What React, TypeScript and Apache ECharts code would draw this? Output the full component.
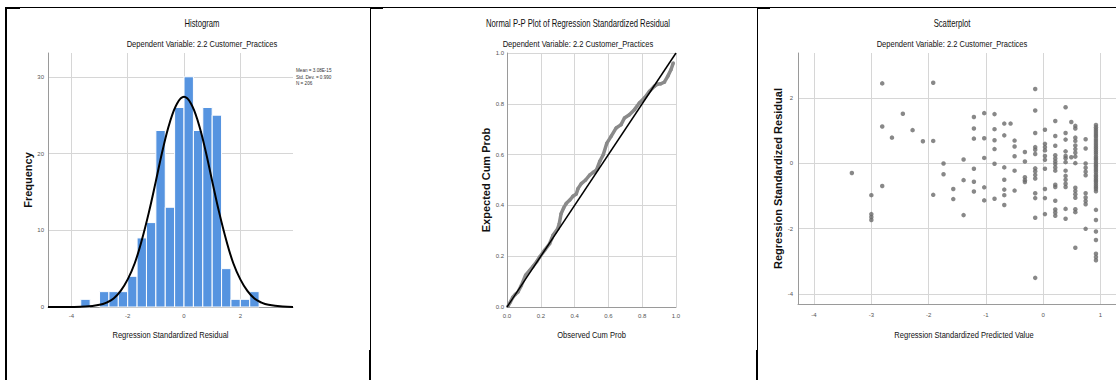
import React, { useEffect, useRef } from "react";
import * as echarts from "echarts";

// ---------- texts ----------
const histTitle = "Histogram";
const ppTitle = "Normal P-P Plot of Regression Standardized Residual";
const scTitle = "Scatterplot";
const subTitle = "Dependent Variable: 2.2 Customer_Practices";
const histXName = "Regression Standardized Residual";
const histYName = "Frequency";
const ppXName = "Observed Cum Prob";
const ppYName = "Expected Cum Prob";
const scXName = "Regression Standardized Predicted Value";
const scYName = "Regression Standardized Residual";
const histStats = ["Mean = 3.08E-15", "Std. Dev. = 0.990", "N = 206"];

// ---------- histogram ----------
const binCenters = [-3.5, -2.833, -2.5, -2.167, -1.833, -1.5, -1.167, -0.833, -0.5, -0.167, 0.167, 0.5, 0.833, 1.167, 1.5, 1.833, 2.167, 2.5];
const binCounts = [1, 2, 2, 2, 4, 9, 11, 23, 13, 26, 30, 23, 26, 25, 5, 1, 1, 2];
const binWidth = 1 / 3;
const histXTicks = [-4, -2, 0, 2];
const histYTicks = [0, 10, 20, 30];
// normal curve
const curveX = [-4.83, -4, -3.5, -3, -2.75, -2.5, -2.25, -2, -1.75, -1.5, -1.25, -1, -0.75, -0.5, -0.25, 0, 0.25, 0.5, 0.75, 1, 1.25, 1.5, 1.75, 2, 2.25, 2.5, 2.75, 3, 3.5, 3.87];
const curveY = [0, 0.01, 0.05, 0.28, 0.58, 1.1, 2.1, 3.6, 5.7, 8.7, 12.3, 16.4, 20.6, 24.1, 26.5, 27.4, 26.5, 24.1, 20.6, 16.4, 12.3, 8.7, 5.7, 3.6, 2.1, 1.1, 0.58, 0.28, 0.05, 0.01];

// ---------- P-P plot ----------
const ppTicks = [0, 0.2, 0.4, 0.6, 0.8, 1.0];
const ppObserved = [0.006, 0.02, 0.035, 0.05, 0.065, 0.085, 0.11, 0.134, 0.154, 0.175, 0.193, 0.222, 0.252, 0.265, 0.272, 0.3, 0.31, 0.32, 0.335, 0.35, 0.37, 0.39, 0.41, 0.42, 0.44, 0.465, 0.49, 0.51, 0.53, 0.55, 0.57, 0.59, 0.616, 0.646, 0.675, 0.695, 0.724, 0.754, 0.783, 0.813, 0.843, 0.872, 0.89, 0.91, 0.931, 0.951, 0.97, 0.984];
const ppExpected = [0.003, 0.02, 0.039, 0.05, 0.059, 0.085, 0.125, 0.144, 0.16, 0.178, 0.197, 0.223, 0.249, 0.27, 0.282, 0.308, 0.33, 0.367, 0.39, 0.407, 0.42, 0.436, 0.445, 0.466, 0.486, 0.5, 0.52, 0.53, 0.54, 0.575, 0.6, 0.644, 0.672, 0.705, 0.718, 0.744, 0.757, 0.777, 0.803, 0.823, 0.849, 0.869, 0.877, 0.879, 0.885, 0.908, 0.934, 0.961];

// ---------- scatterplot ----------
const scXTicks = [-4, -3, -2, -1, 0, 1];
const scYTicks = [-4, -2, 0, 2];
const scPredicted = [-3.34, -3.0, -2.81, -2.64, -2.45, -2.28, -2.1, -1.92, -1.74, -1.57, -1.39, -1.21, -1.03, -0.85, -0.68, -0.57, -0.5, -0.32, -0.14, 0.03, 0.21, 0.39, 0.49, 0.56, 0.74, 0.92];
const scResiduals = [
  [-0.3],
  [-0.98, -1.56, -1.65, -1.74],
  [2.44, 1.12, -0.7],
  [0.78],
  [1.51],
  [1.01],
  [0.67],
  [2.46, 0.68, -0.97],
  [-0.01, -0.34],
  [-0.79, -1.1],
  [0.11, -0.52, -1.59],
  [1.41, 1.06, 0.75, -0.17, -0.57, -0.87],
  [1.53, 0.76, 0.16, -0.74, -1.14],
  [1.5, 1.04, 0.7, 0.43, -0.02, -1.09],
  [1.21, 0.85, -0.13, -0.51, -0.81, -0.98, -1.28],
  [1.21],
  [0.69, 0.51, 0.21, -0.23, -0.84],
  [0.34, 0.05, -0.43, -0.52, -0.58],
  [2.27, 1.61, 0.92, 0.49, 0.41, 0.28, -0.16, -0.25, -0.36, -0.47, -0.92, -1.07, -1.67, -3.51],
  [1.02, 0.59, 0.49, 0.39, 0.22, 0.1, -0.17, -0.79, -1.07, -1.56],
  [1.29, 0.83, 0.53, 0.24, 0.14, 0.05, -0.03, -0.13, -0.23, -0.66, -0.73, -1.15, -1.42, -1.51, -1.61],
  [1.71, 0.92, 0.72, 0.36, 0.22, 0.15, 0.03, -0.23, -0.39, -0.51, -0.63, -0.73, -1.4, -1.7],
  [1.26, 0.18],
  [1.14, 1.06, 0.78, 0.68, 0.54, 0.43, 0.32, 0.2, 0.0, -0.75, -0.85, -0.95, -1.06, -1.41, -1.5, -2.59],
  [0.73, 0.45, -0.01, -0.14, -0.26, -0.37, -0.92, -1.05, -1.16, -1.26, -2.01],
  [1.17, 1.1, 1.04, 0.98, 0.92, 0.86, 0.81, 0.74, 0.68, 0.62, 0.56, 0.5, 0.45, 0.39, 0.33, 0.27, 0.2, 0.15, 0.1, 0.04, -0.02, -0.07, -0.12, -0.18, -0.23, -0.29, -0.36, -0.41, -0.47, -0.52, -0.57, -0.63, -0.69, -0.74, -0.79, -0.86, -1.43, -1.74, -2.09, -2.35, -2.77, -2.87, -2.97],
];

const SANS = "'Liberation Sans', Arial, sans-serif";
const NARROW_SCALE = 0.77;
const GRID_COLOR = "#d6d6d6";
const AXIS_COLOR = "#9a9a9a";

function valueAxis(gridIndex: number, min: number, max: number, ticks: number[], extra: any = {}) {
  return {
    type: "value",
    gridIndex,
    min,
    max,
    axisLine: { show: true, onZero: false, lineStyle: { color: AXIS_COLOR, width: 1 } },
    axisTick: { show: false, customValues: ticks },
    axisLabel: {
      customValues: ticks,
      fontSize: 6,
      color: "#555",
      fontFamily: SANS,
      margin: extra.labelMargin ?? 5,
      formatter: extra.formatter,
    },
    splitLine: { show: true, lineStyle: { color: GRID_COLOR, width: 1 } },
    name: extra.name,
    nameLocation: "middle",
    nameGap: extra.nameGap,
    nameTextStyle: extra.nameTextStyle,
  };
}

const yNameStyle = { fontFamily: SANS, fontSize: 11, fontWeight: "bold", color: "#111" };

export default function App() {
  const ref = useRef<HTMLDivElement>(null);
  useEffect(() => {
    if (!ref.current) return;
    const chart = echarts.init(ref.current, undefined, { renderer: "svg" });

    const histData = binCenters.map((c, i) => [c, binCounts[i]]);
    const curveData = curveX.map((x, i) => [x, curveY[i]]);
    const ppData = ppObserved.map((x, i) => [x, ppExpected[i]]);
    const scData: number[][] = [];
    scPredicted.forEach((x, i) => scResiduals[i].forEach((y) => scData.push([x, y])));

    const fmt1 = (v: number) => v.toFixed(1);

    const narrowText = (x: number, y: number, text: string, size: number, align = "center", fill = "#111") => ({
      type: "text",
      x,
      y,
      scaleX: NARROW_SCALE,
      style: { text, fontFamily: SANS, fontSize: size, fill, align, verticalAlign: "middle" },
    });
    const line = (x1: number, y1: number, x2: number, y2: number, w: number) => ({
      type: "line",
      shape: { x1, y1, x2, y2 },
      style: { stroke: "#000", lineWidth: w },
    });

    chart.setOption({
      animation: false,
      backgroundColor: "#fff",
      grid: [
        { left: 48, top: 53, width: 245, height: 254 },
        { left: 507, top: 53, width: 169, height: 254 },
        { left: 798, top: 53, width: 332, height: 251 },
      ],
      xAxis: [
        valueAxis(0, -4.83, 3.87, histXTicks, { labelMargin: 6 }),
        valueAxis(1, 0, 1, ppTicks, { formatter: fmt1, labelMargin: 6 }),
        valueAxis(2, -4.28, 1.27, scXTicks, { labelMargin: 8 }),
      ],
      yAxis: [
        valueAxis(0, 0, 33.1, histYTicks, { name: histYName, nameGap: 11, nameTextStyle: yNameStyle, labelMargin: 4 }),
        valueAxis(1, 0, 1, ppTicks, { name: ppYName, nameGap: 15, nameTextStyle: yNameStyle, formatter: fmt1, labelMargin: 3 }),
        valueAxis(2, -4.31, 3.37, scYTicks, { name: scYName, nameGap: 12, nameTextStyle: yNameStyle, labelMargin: 5 }),
      ],
      series: [
        {
          type: "custom",
          xAxisIndex: 0,
          yAxisIndex: 0,
          data: histData,
          encode: { x: 0, y: 1 },
          renderItem: (_params: any, api: any) => {
            const c = api.value(0);
            const v = api.value(1);
            const p0 = api.coord([c - binWidth / 2, v]);
            const p1 = api.coord([c + binWidth / 2, 0]);
            return {
              type: "rect",
              shape: { x: p0[0], y: p0[1], width: p1[0] - p0[0], height: p1[1] - p0[1] },
              style: { fill: "#5694e0", stroke: "#ffffff", lineWidth: 1 },
            };
          },
          z: 2,
        },
        {
          type: "line",
          xAxisIndex: 0,
          yAxisIndex: 0,
          data: curveData,
          smooth: 0.4,
          showSymbol: false,
          lineStyle: { color: "#000", width: 2 },
          z: 3,
        },
        {
          type: "line",
          xAxisIndex: 1,
          yAxisIndex: 1,
          data: ppData,
          symbol: "circle",
          symbolSize: 3.5,
          itemStyle: { color: "#8a8a8a" },
          lineStyle: { color: "#8a8a8a", width: 3.5 },
          z: 2,
        },
        {
          type: "line",
          xAxisIndex: 1,
          yAxisIndex: 1,
          data: [[0, 0], [1, 1]],
          showSymbol: false,
          lineStyle: { color: "#000", width: 1.5 },
          z: 3,
        },
        {
          type: "scatter",
          xAxisIndex: 2,
          yAxisIndex: 2,
          data: scData,
          symbolSize: 4.5,
          itemStyle: { color: "#6a6a6a" },
        },
      ],
      graphic: [
        narrowText(202, 24, histTitle, 10),
        narrowText(202, 44, subTitle, 9.8),
        narrowText(578, 24, ppTitle, 10),
        narrowText(578, 44, subTitle, 9.8),
        narrowText(952, 24, scTitle, 10),
        narrowText(952, 44, subTitle, 9.8),
        narrowText(170.5, 335, histXName, 9.8),
        narrowText(591.5, 335, ppXName, 9.8),
        narrowText(964, 335, scXName, 9.8),
        ...histStats.map((t, i) => narrowText(296, 70 + i * 6.5, t, 6, "left", "#333")),
        line(5, 7.5, 1116, 7.5, 1),
        line(5, 8, 20, 8, 2),
        line(370, 8, 383, 8, 2),
        line(757, 8, 770, 8, 2),
        line(6, 7, 6, 380, 2),
        line(370.5, 7, 370.5, 380, 1),
        line(370, 350, 370, 380, 2),
        line(757.5, 7, 757.5, 380, 1),
        line(757, 350, 757, 380, 2),
      ],
    });
    return () => chart.dispose();
  }, []);
  return (
    <div
      ref={ref}
      style={{ position: "fixed", left: 0, top: 0, width: 1116, height: 380, background: "#fff" }}
    />
  );
}
